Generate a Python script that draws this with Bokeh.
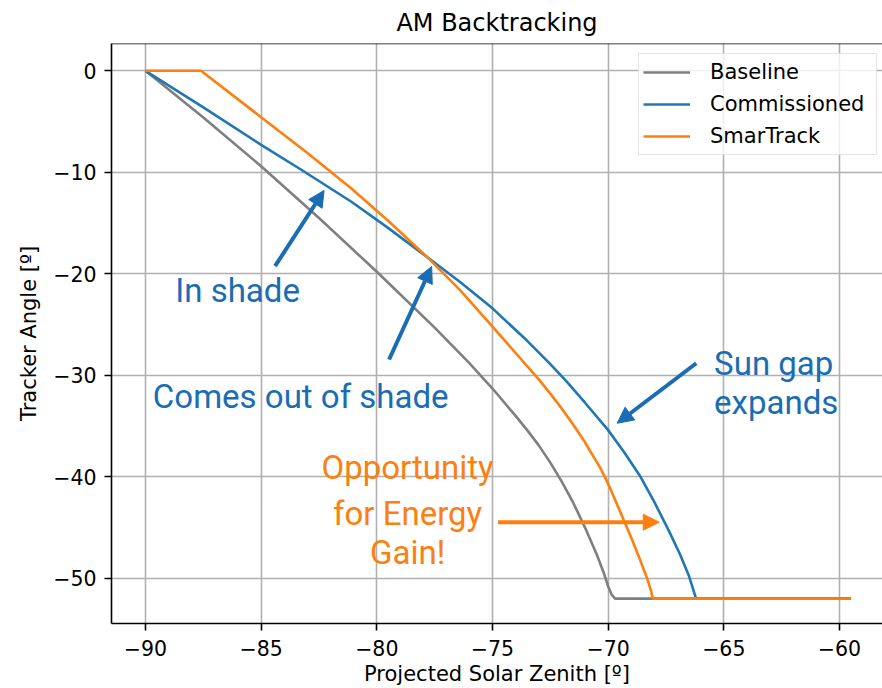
from bokeh.plotting import figure
from bokeh.models import (Arrow, NormalHead, ColumnDataSource, Legend, LegendItem,
                          Span, FixedTicker, Range1d)
from bokeh.core.properties import value
from bokeh.embed import file_html
from bokeh.resources import INLINE

# ---------------- data ----------------
baseline_x = [-90, -87.5, -85, -82.5, -80, -77.5, -76, -75, -74, -73.5, -73, -72.5, -72,
              -71.5, -71, -70.5, -70.2, -70.0, -69.85, -69.7, -59.5]
baseline_y = [0, -4.6, -9.4, -14.5, -19.8, -25.3, -28.8, -31.3, -34.0, -35.4, -36.9, -38.6,
              -40.5, -42.6, -45.0, -47.6, -49.4, -50.8, -51.6, -52, -52]

commissioned_x = [-90, -87.5, -85, -83.3, -81.1, -79.5, -77.8, -76.4, -75, -73.5,
                  -72.5, -71.8, -71.0, -70.0, -69.3, -68.6, -68.0, -67.4, -66.9, -66.5,
                  -66.2, -59.5]
commissioned_y = [0, -3.6, -7.3, -9.7, -12.9, -15.5, -18.4, -20.8, -23.4, -26.6,
                  -28.9, -30.6, -32.7, -35.4, -37.6, -40.0, -42.5, -45.2, -47.6, -49.8,
                  -52, -52]

smartrack_x = [-90, -87.6, -85.1, -83, -81.1, -79.5, -77.8, -76.4, -75, -74, -73, -72.5,
               -72, -71.5, -71.0, -70.8, -70.5, -70.3, -70.1, -69.9, -69.6, -69.0, -68.6,
               -68.3, -68.15, -68.07, -59.5]
smartrack_y = [0, 0, -4.4, -8.1, -11.6, -14.8, -18.4, -21.6, -25.2, -27.8, -30.4, -31.8,
               -33.3, -34.9, -36.6, -37.4, -38.5, -39.3, -40.2, -41.2, -42.8, -46.0, -48.3,
               -50.1, -51.2, -52, -52]

series_names = ["Baseline", "Commissioned", "SmarTrack"]

x_ticks = [-90, -85, -80, -75, -70, -65, -60]
x_tick_labels = ["\u221290", "\u221285", "\u221280", "\u221275", "\u221270", "\u221265", "\u221260"]
y_ticks = [0, -10, -20, -30, -40, -50]
y_tick_labels = ["0", "\u221210", "\u221220", "\u221230", "\u221240", "\u221250"]

# annotation texts and their anchor points (data coordinates)
blue_texts = ["In shade", "Comes out of shade", "Sun gap", "expands"]
blue_text_x = [-86.02, -83.29, -65.42, -65.42]
blue_text_y = [-21.65, -32.09, -28.81, -32.65]
blue_text_align = ["center", "center", "left", "left"]

orange_texts = ["Opportunity", "for Energy", "Gain!"]
orange_text_x = [-78.67, -78.67, -78.67]
orange_text_y = [-39.11, -43.59, -47.43]

blue_arrow_x0 = [-84.40, -79.47, -66.19]
blue_arrow_y0 = [-19.25, -28.44, -28.81]
blue_arrow_x1 = [-82.28, -77.63, -69.61]
blue_arrow_y1 = [-11.79, -19.28, -34.72]

orange_arrow_x0 = [-74.76]
orange_arrow_y0 = [-44.47]
orange_arrow_x1 = [-67.79]
orange_arrow_y1 = [-44.47]

# ---------------- style ----------------
GRAY = "#7f7f7f"
BLUE = "#1f77b4"
ORANGE = "#ff7f0e"
ANN_BLUE = "#1a6db3"
ANN_ORANGE = "#fd7f10"
FONT = "DejaVu Sans"
Y_TOP = 2.69

p = figure(width=882, height=688, output_backend="svg", toolbar_location=None,
           x_range=Range1d(-91.47, -58.14), y_range=Range1d(-54.45, Y_TOP),
           min_border_left=111, min_border_right=0, min_border_top=0,
           min_border_bottom=0)

p.title.text = "AM Backtracking"
p.title.align = "center"
p.title.text_font = FONT
p.title.text_font_size = "24px"
p.title.text_font_style = "normal"
p.title.text_color = "black"
p.title.standoff = 13

p.outline_line_color = None
p.add_layout(Span(location=Y_TOP, dimension="width", line_color="black", line_width=1.6))

for ax in (p.xaxis[0], p.yaxis[0]):
    ax.axis_line_color = "black"
    ax.axis_line_width = 1.6
    ax.major_tick_line_width = 1.6
    ax.major_tick_out = 7
    ax.major_tick_in = 0
    ax.minor_tick_line_color = None
    ax.major_label_text_font = FONT
    ax.major_label_text_font_size = "20.5px"
    ax.major_label_text_color = "black"
    ax.axis_label_text_font = FONT
    ax.axis_label_text_font_size = "21px"
    ax.axis_label_text_font_style = "normal"
    ax.axis_label_text_color = "black"

p.xaxis.ticker = FixedTicker(ticks=x_ticks)
p.yaxis.ticker = FixedTicker(ticks=y_ticks)
p.xaxis.major_label_overrides = dict(zip(x_ticks, x_tick_labels))
p.yaxis.major_label_overrides = dict(zip(y_ticks, y_tick_labels))
p.xaxis.axis_label = "Projected Solar Zenith [\u00ba]"
p.yaxis.axis_label = "Tracker Angle [\u00ba]"
p.xaxis.major_label_standoff = 9
p.xaxis.axis_label_standoff = 3
p.yaxis.major_label_standoff = 8
p.yaxis.axis_label_standoff = 9

p.grid.grid_line_color = "#b0b0b0"
p.grid.grid_line_width = 1.6

r1 = p.line(baseline_x, baseline_y, line_color=GRAY, line_width=2.6)
r2 = p.line(commissioned_x, commissioned_y, line_color=BLUE, line_width=2.6)
r3 = p.line(smartrack_x, smartrack_y, line_color=ORANGE, line_width=2.6)

legend = Legend(items=[LegendItem(label=n, renderers=[r]) for n, r in zip(series_names, [r1, r2, r3])],
                location=(527, 468))
legend.label_text_font = FONT
legend.label_text_font_size = "21px"
legend.label_text_color = "black"
legend.glyph_width = 47
legend.glyph_height = 28
legend.label_height = 28
legend.label_width = 162
legend.label_standoff = 20
legend.spacing = 4
legend.padding = 4
legend.margin = 0
legend.border_line_color = "#cccccc"
legend.border_line_width = 1.5
legend.background_fill_alpha = 0.8
p.add_layout(legend)

p.text(blue_text_x, blue_text_y, text=blue_texts, text_align=blue_text_align,
       text_baseline="alphabetic", text_font=value("Roboto"), text_font_size="33px",
       text_color=ANN_BLUE)
p.text(orange_text_x, orange_text_y, text=orange_texts, text_align="center",
       text_baseline="alphabetic", text_font=value("Roboto"), text_font_size="33px",
       text_color=ANN_ORANGE)

blue_src = ColumnDataSource(dict(x0=blue_arrow_x0, y0=blue_arrow_y0, x1=blue_arrow_x1, y1=blue_arrow_y1))
orange_src = ColumnDataSource(dict(x0=orange_arrow_x0, y0=orange_arrow_y0, x1=orange_arrow_x1, y1=orange_arrow_y1))
p.add_layout(Arrow(source=blue_src, x_start="x0", y_start="y0", x_end="x1", y_end="y1",
                   line_color=ANN_BLUE, line_width=4,
                   end=NormalHead(size=16, fill_color=ANN_BLUE, line_color=ANN_BLUE)))
p.add_layout(Arrow(source=orange_src, x_start="x0", y_start="y0", x_end="x1", y_end="y1",
                   line_color=ANN_ORANGE, line_width=4,
                   end=NormalHead(size=16, fill_color=ANN_ORANGE, line_color=ANN_ORANGE)))

open("out.html", "w").write(file_html(p, INLINE))
